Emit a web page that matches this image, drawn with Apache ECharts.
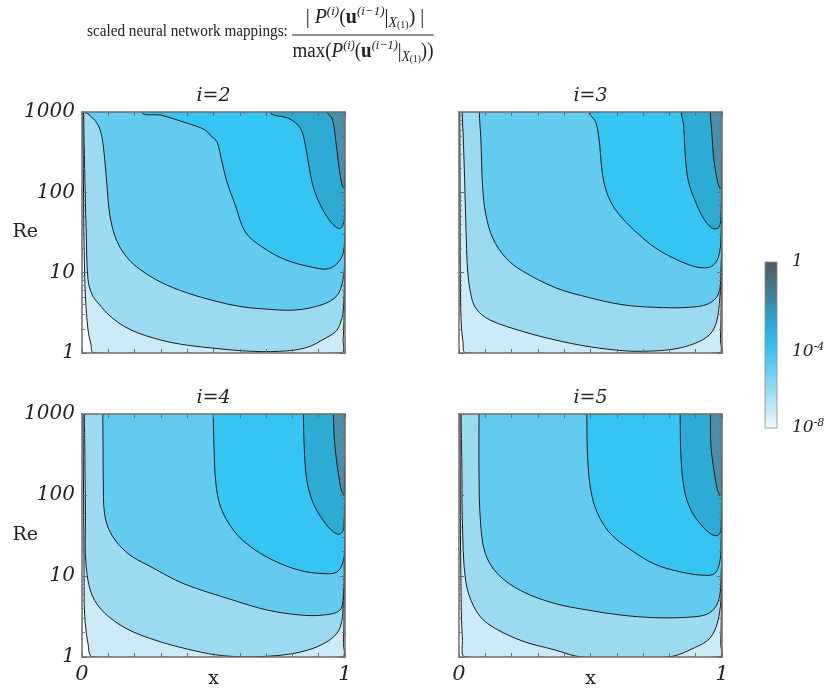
<!DOCTYPE html>
<html><head><meta charset="utf-8">
<script src="https://cdn.jsdelivr.net/npm/echarts@6/dist/echarts.min.js"></script>
<style>html,body{margin:0;padding:0;background:#fff}#chart{width:827px;height:695px}</style>
</head><body><div id="chart"></div>
<script>
// ---------- data ----------
const plotTitles = ['i=2', 'i=3', 'i=4', 'i=5'];
const xTickLabels = [0, 1];
const yRange = [1, 1000];
const colorbarLabels = [['1', ''], ['10', '-4'], ['10', '-8']];
// fill colours, lowest level first (background) to highest
const levelColors = ['#f6fbfd', '#cdebf7', '#9cdaf2', '#64cbf0', '#36c4f2', '#2eabd5', '#4a8ea8'];

// contour lines [x, Re]; each one bounds the region of higher values (towards top-right)
// i = 2
const i2_c1 = [[0.003,1000],[0.005,200],[0.007,34],[0.01,10],[0.013,5],[0.023,1.93],[0.033,1.33],[0.046,1],[0.985,1],[0.993,1.5],[0.997,4],[0.999,100],[0.9995,1000]];
const i2_c2 = [[0.006,1000],[0.009,300],[0.012,100],[0.016,34],[0.023,8.1],[0.04,5.2],[0.061,4.2],[0.111,2.8],[0.187,1.93],[0.30,1.45],[0.40,1.25],[0.51,1.14],[0.60,1.07],[0.684,1.04],[0.75,1.05],[0.811,1.09],[0.87,1.22],[0.913,1.45],[0.95,1.7],[0.97,1.93],[0.985,2.5],[0.992,3.1],[0.997,6]];
const i2_c3 = [[0.009,1000],[0.02,960],[0.035,875],[0.061,690],[0.076,480],[0.086,263],[0.096,112],[0.103,60],[0.118,34],[0.14,22],[0.175,15],[0.22,11],[0.30,7.6],[0.40,5.6],[0.51,4.4],[0.60,3.8],[0.684,3.55],[0.811,3.43],[0.913,4.0],[0.97,5.2],[0.992,8.1],[0.998,13]];
const i2_c4 = [[0.226,1000],[0.30,912],[0.40,724],[0.466,603],[0.494,490],[0.513,427],[0.532,240],[0.551,135],[0.583,69],[0.621,32],[0.684,21],[0.773,14.5],[0.875,11.7],[0.938,11.2],[0.982,14.5],[0.998,23]];
const i2_c5 = [[0.714,1000],[0.786,832],[0.83,631],[0.849,389],[0.862,219],[0.881,112],[0.913,63],[0.951,41],[0.982,35.5],[0.998,48]];
const i2_c6 = [[0.932,1000],[0.951,832],[0.964,468],[0.976,219],[0.989,123],[0.998,112]];
// i = 3
const i3_c1 = [[0.003,1000],[0.004,100],[0.005,10],[0.008,2.5],[0.015,1.4],[0.027,1],[0.988,1],[0.994,1.5],[0.997,5],[0.999,100],[0.9995,1000]];
const i3_c2 = [[0.012,1000],[0.016,500],[0.02,200],[0.024,70],[0.028,25],[0.033,10.5],[0.045,5.4],[0.064,3.6],[0.115,2.6],[0.241,1.86],[0.367,1.45],[0.494,1.2],[0.62,1.07],[0.696,1.05],[0.81,1.11],[0.898,1.32],[0.955,1.72],[0.98,2.5],[0.992,4.9],[0.997,10]];
const i3_c3 = [[0.077,1000],[0.083,470],[0.09,113],[0.102,53],[0.128,27],[0.178,15.3],[0.241,10.5],[0.367,6.5],[0.494,4.9],[0.62,4.0],[0.746,3.7],[0.872,3.7],[0.948,4.1],[0.986,5.4],[0.996,10.5]];
const i3_c4 = [[0.494,1000],[0.519,760],[0.532,470],[0.538,295],[0.544,182],[0.557,112],[0.582,71],[0.62,48],[0.683,30],[0.746,20.4],[0.81,15.5],[0.872,12.6],[0.923,11.5],[0.961,12],[0.986,15.5],[0.996,27]];
const i3_c5 = [[0.845,1000],[0.854,690],[0.86,295],[0.872,138],[0.898,78],[0.929,48],[0.961,36],[0.986,36],[0.996,48]];
const i3_c6 = [[0.955,1000],[0.961,575],[0.967,295],[0.98,151],[0.992,112],[0.998,115]];
// i = 4
const i4_c1 = [[0.004,1000],[0.006,100],[0.008,10],[0.01,3.4],[0.023,1.46],[0.042,1],[0.988,1],[0.994,1.5],[0.997,5],[0.999,100],[0.9995,1000]];
const i4_c2 = [[0.009,1000],[0.011,300],[0.013,60],[0.016,12.9],[0.048,5],[0.136,2.6],[0.262,1.68],[0.451,1.15],[0.565,1.02],[0.704,1.02],[0.83,1.15],[0.93,1.53],[0.981,2.3],[0.994,5.5],[0.998,12]];
const i4_c3 = [[0.079,1000],[0.08,400],[0.081,150],[0.086,58],[0.111,33],[0.174,19],[0.262,13],[0.388,8],[0.578,5],[0.704,3.8],[0.83,3.3],[0.918,3.3],[0.981,3.8],[0.994,6],[0.997,13]];
const i4_c4 = [[0.499,1000],[0.502,390],[0.508,151],[0.527,71],[0.578,36],[0.641,23],[0.729,15.5],[0.83,11.7],[0.918,10.7],[0.969,11.2],[0.994,15.5],[0.999,27]];
const i4_c5 = [[0.842,1000],[0.845,390],[0.855,151],[0.88,78],[0.918,48],[0.956,35],[0.981,33],[0.996,40]];
const i4_c6 = [[0.956,1000],[0.962,390],[0.975,182],[0.987,112],[0.997,102]];
// i = 5
const i5_c1 = [[0.004,1000],[0.005,100],[0.007,10],[0.013,1.6],[0.025,1],[0.99,1],[0.995,1.5],[0.998,5],[0.999,100],[0.9995,1000]];
const i5_c2 = [[0.008,1000],[0.011,200],[0.013,45],[0.025,8.9],[0.057,4.15],[0.108,2.6],[0.235,1.6],[0.362,1.23],[0.468,1],[0.793,1],[0.895,1.3],[0.958,1.77],[0.99,3.4],[0.997,8]];
const i5_c3 = [[0.076,1000],[0.076,185],[0.082,45],[0.10,19],[0.146,10.7],[0.235,6.6],[0.362,4.6],[0.489,3.8],[0.615,3.3],[0.742,3.06],[0.87,3.1],[0.945,3.4],[0.983,4.6],[0.996,8.9]];
const i5_c4 = [[0.486,1000],[0.489,295],[0.501,115],[0.527,59],[0.577,33],[0.654,21],[0.742,14.1],[0.844,11.2],[0.933,10.2],[0.971,10.7],[0.99,14.1],[0.996,23]];
const i5_c5 = [[0.841,1000],[0.844,295],[0.857,115],[0.882,65],[0.92,43],[0.958,33],[0.983,31.6],[0.996,37]];
const i5_c6 = [[0.956,1000],[0.958,400],[0.971,186],[0.983,115],[0.992,100],[0.998,102]];

const plotCurves = [
  [i2_c1, i2_c2, i2_c3, i2_c4, i2_c5, i2_c6],
  [i3_c1, i3_c2, i3_c3, i3_c4, i3_c5, i3_c6],
  [i4_c1, i4_c2, i4_c3, i4_c4, i4_c5, i4_c6],
  [i5_c1, i5_c2, i5_c3, i5_c4, i5_c5, i5_c6]
];

// ---------- layout / style ----------
const gridPos = [
  {left: 82, top: 112, width: 263, height: 241},
  {left: 459, top: 112, width: 263, height: 241},
  {left: 82, top: 414, width: 263, height: 243},
  {left: 459, top: 414, width: 263, height: 243}
];
const frameColor = '#6c6c6c';
const serif = 'DejaVu Serif';
const textColor = '#222';

const chart = echarts.init(document.getElementById('chart'), null, {renderer: 'canvas'});

const grids = gridPos.map(g => Object.assign({show: true, backgroundColor: levelColors[0], borderWidth: 0,
  containLabel: false, outerBoundsMode: 'none'}, g));
const xAxes = [], yAxes = [], series = [];
gridPos.forEach((g, gi) => {
  const isBottom = gi >= 2, isLeft = gi % 2 === 0;
  const axisLine = {show: true, onZero: false, lineStyle: {color: frameColor, width: 1.5}};
  const tick = {show: true, inside: true, length: 4, lineStyle: {color: frameColor, width: 1}};
  xAxes.push({
    type: 'value', gridIndex: gi, position: 'bottom', min: 0, max: 1, interval: 0.1, z: 10,
    axisLine, axisTick: tick, splitLine: {show: false},
    axisLabel: {show: isBottom, margin: 7, fontFamily: serif, fontStyle: 'italic', fontSize: 21, color: textColor,
      formatter: v => (xTickLabels.indexOf(v) >= 0 ? String(v) : '')},
    name: isBottom ? 'x' : '', nameLocation: 'middle', nameGap: 13, nameMoveOverlap: false,
    nameTextStyle: {fontFamily: serif, fontSize: 19, color: textColor}
  });
  xAxes.push({
    type: 'value', gridIndex: gi, position: 'top', min: 0, max: 1, interval: 0.1, z: 10,
    axisLine, axisTick: tick, splitLine: {show: false}, axisLabel: {show: false},
    name: plotTitles[gi], nameLocation: 'middle', nameGap: 6, nameMoveOverlap: false,
    nameTextStyle: {fontFamily: serif, fontStyle: 'italic', fontSize: 19, color: textColor}
  });
  const yBase = {
    type: 'log', logBase: 10, gridIndex: gi, min: yRange[0], max: yRange[1], z: 10,
    axisLine, axisTick: Object.assign({}, tick, {length: 5}),
    minorTick: {show: true, splitNumber: 9, length: 3, lineStyle: {color: frameColor, width: 0.8}},
    splitLine: {show: false}, minorSplitLine: {show: false}
  };
  yAxes.push(Object.assign({}, yBase, {
    position: 'left',
    axisLabel: {show: isLeft, margin: 7, fontFamily: serif, fontStyle: 'italic', fontSize: 20, color: textColor,
      formatter: v => String(Math.round(v))},
    name: isLeft ? 'Re' : '', nameLocation: 'middle', nameRotate: 0, nameGap: 44, nameMoveOverlap: false,
    nameTextStyle: {fontFamily: serif, fontSize: 19, color: textColor}
  }));
  yAxes.push(Object.assign({}, yBase, {position: 'right', axisLabel: {show: false}}));

  const curves = plotCurves[gi];
  series.push({
    type: 'custom', xAxisIndex: gi * 2, yAxisIndex: gi * 2, clip: true, silent: true, z: 2,
    data: curves.map((c, k) => [c[0][0], c[0][1], k]),
    renderItem: (params, api) => {
      const k = api.value(2);
      const c = curves[k];
      const last = c[c.length - 1];
      // close the region above the plot (outside the clipped area)
      const pts = [[c[0][0], 3000]].concat(c, [[last[0], 3000]]).map(p => api.coord(p));
      return {
        type: 'polygon',
        shape: {points: pts, smooth: 0.35},
        style: {fill: levelColors[k + 1], stroke: '#1c1c1c', lineWidth: 1}
      };
    }
  });
});

// title formula + colorbar
const mathRich = {
  it: {fontFamily: 'Liberation Serif', fontStyle: 'italic', fontSize: 20, fill: textColor},
  sup: {fontFamily: 'Liberation Serif', fontStyle: 'italic', fontSize: 13, fill: textColor, verticalAlign: 'top'},
  b: {fontFamily: 'Liberation Serif', fontWeight: 'bold', fontSize: 20, fill: textColor},
  sub: {fontFamily: 'Liberation Serif', fontStyle: 'italic', fontSize: 14, fill: textColor, verticalAlign: 'bottom'},
  ss: {fontFamily: 'Liberation Serif', fontSize: 10, fill: textColor, verticalAlign: 'bottom'}
};
const mathBase = {fontFamily: 'Liberation Serif', fontSize: 20, fill: textColor, lineHeight: 25, align: 'center', verticalAlign: 'middle'};
const cbLabelRich = {
  m: {fontFamily: serif, fontStyle: 'italic', fontSize: 17, fill: textColor},
  e: {fontFamily: serif, fontStyle: 'italic', fontSize: 11, fill: textColor, verticalAlign: 'top'}
};
const cbTop = 262, cbBottom = 428;
const cbLabelY = [cbTop, (cbTop + cbBottom) / 2 + 7, cbBottom];
const graphic = [
  {type: 'text', x: 87, y: 31, scaleX: 0.87, style: {text: 'scaled neural network mappings:', fontFamily: 'Liberation Serif', fontSize: 17.5, fill: textColor, align: 'left', verticalAlign: 'middle'}},
  {type: 'text', x: 365, y: 18, style: Object.assign({}, mathBase, {text: '| {it|P}{sup|(i)}({b|u}{sup|(i−1)}|{sub|X}{ss|(1)}) |', rich: mathRich})},
  {type: 'line', shape: {x1: 292, y1: 35, x2: 434, y2: 35}, style: {stroke: textColor, lineWidth: 1}},
  {type: 'text', x: 363, y: 52, scaleX: 0.95, style: Object.assign({}, mathBase, {text: 'max({it|P}{sup|(i)}({b|u}{sup|(i−1)}|{sub|X}{ss|(1)}))', rich: mathRich})},
  {type: 'rect', shape: {x: 765, y: cbTop, width: 12, height: cbBottom - cbTop},
    style: {fill: new echarts.graphic.LinearGradient(0, 0, 0, 1, [
      {offset: 0, color: '#4f5a61'}, {offset: 0.2, color: '#3f8098'}, {offset: 0.38, color: '#2aa9d8'},
      {offset: 0.52, color: '#36c3f1'}, {offset: 0.72, color: '#86d3f0'}, {offset: 1, color: '#f0f9fd'}]),
      stroke: '#8a8a8a', lineWidth: 0.8}}
].concat(colorbarLabels.map((l, i) => ({
  type: 'text', x: 792, y: cbLabelY[i],
  style: {text: '{m|' + l[0] + '}' + (l[1] ? '{e|' + l[1] + '}' : ''), rich: cbLabelRich, align: 'left', verticalAlign: 'middle', lineHeight: 20}
})));

chart.setOption({
  animation: false,
  grid: grids,
  xAxis: xAxes,
  yAxis: yAxes,
  series,
  graphic
});
</script></body></html>
